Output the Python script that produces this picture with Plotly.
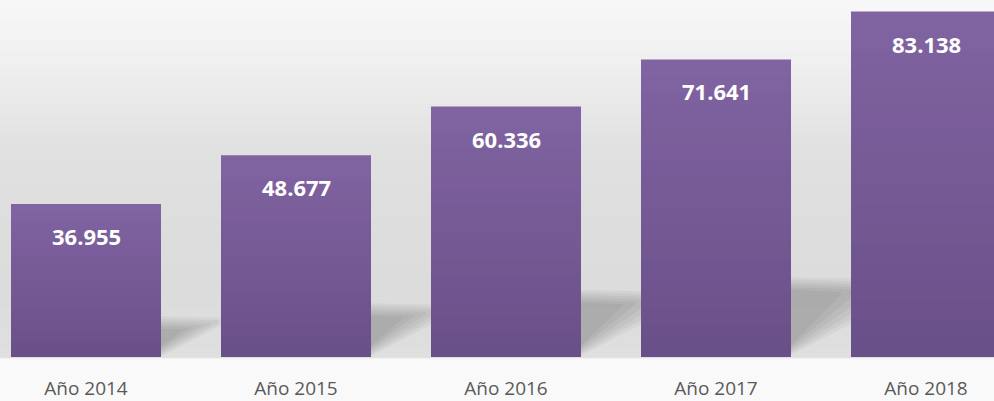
import plotly.graph_objects as go

# Datos del gráfico
categorias = ["Año 2014", "Año 2015", "Año 2016", "Año 2017", "Año 2018"]
valores = [36955, 48677, 60336, 71641, 83138]
etiquetas = ["36.955", "48.677", "60.336", "71.641", "83.138"]

# Escala: pixeles por unidad en el eje y (para las sombras)
PX_POR_UNIDAD = 0.00419
PX_POR_CATEGORIA = 210
ANCHO_BARRA = 150 / 210

fig = go.Figure()

# Barras con degradado vertical: capas superpuestas de altura decreciente
n_capas = 18
color_arriba = (128, 99, 161)
color_abajo = (106, 80, 137)
for k in range(n_capas):
    f = 1 - k / n_capas
    t = k / (n_capas - 1)
    c = tuple(round(color_arriba[j] + (color_abajo[j] - color_arriba[j]) * t) for j in range(3))
    fig.add_trace(go.Bar(
        x=list(range(len(categorias))),
        y=[v * f for v in valores],
        width=ANCHO_BARRA,
        marker=dict(color="rgb(%d,%d,%d)" % c, line=dict(width=0)),
        hoverinfo="skip",
        showlegend=False,
    ))

# Fondo degradado (pared)
puntos = [(0, 248), (60, 240), (150, 225), (230, 221), (300, 220), (360, 223)]
alto_plot = 360
n_bandas = 72
for b in range(n_bandas):
    y0 = b * alto_plot / n_bandas
    y1 = (b + 1) * alto_plot / n_bandas
    ym = (y0 + y1) / 2
    for (pa, ga), (pb, gb) in zip(puntos[:-1], puntos[1:]):
        if pa <= ym <= pb:
            g = round(ga + (gb - ga) * (ym - pa) / (pb - pa))
            break
    fig.add_shape(type="rect", xref="paper", yref="paper",
                  x0=0, x1=1, y0=1 - y1 / alto_plot - 0.001, y1=1 - y0 / alto_plot,
                  fillcolor="rgb(%d,%d,%d)" % (g, g, g), line=dict(width=0), layer="below")

# Sombras de las barras
for i, v in enumerate(valores):
    xr = i + ANCHO_BARRA / 2
    h_px = v * PX_POR_UNIDAD
    for j in range(6):
        largo = 0.42 * h_px * (1 - 0.12 * j) / PX_POR_CATEGORIA
        arriba = (0.27 * h_px - 2.5 * j) / PX_POR_UNIDAD
        abajo0 = (0.01 * h_px + 2 * j) / PX_POR_UNIDAD
        abajo1 = (0.23 * h_px - 1 * j) / PX_POR_UNIDAD
        path = "M %f,%f L %f,%f L %f,%f L %f,%f Z" % (
            xr, abajo0, xr, arriba, xr + largo, arriba * 0.97, xr + largo, abajo1)
        fig.add_shape(type="path", xref="x", yref="y", path=path,
                      fillcolor="rgba(0,0,0,0.038)", line=dict(width=0), layer="below")

# Borde del suelo
fig.add_shape(type="line", xref="paper", yref="y", x0=0, x1=1, y0=0, y1=0,
              line=dict(color="#e2e2e2", width=2))

# Etiquetas de valor
for i, (v, t) in enumerate(zip(valores, etiquetas)):
    fig.add_annotation(x=i, y=v, text="<b>%s</b>" % t, showarrow=False,
                       yanchor="middle", yshift=-32,
                       font=dict(family="Open Sans", size=22, color="white"))

fig.update_layout(
    width=994, height=401,
    margin=dict(l=0, r=0, t=0, b=41),
    barmode="overlay",
    paper_bgcolor="#f9f9f9",
    plot_bgcolor="#dedede",
    xaxis=dict(
        range=[-86 / 210, 908 / 210],
        tickvals=list(range(len(categorias))),
        ticktext=categorias,
        tickfont=dict(family="Open Sans", size=19, color="#595959"),
        showgrid=False, zeroline=False, showline=False,
        ticklabelstandoff=17,
    ),
    yaxis=dict(
        range=[0, 360 / PX_POR_UNIDAD],
        visible=False,
    ),
)

fig.write_html("out.html", config={"displayModeBar": False},
               post_script="document.body.style.margin='0';")
